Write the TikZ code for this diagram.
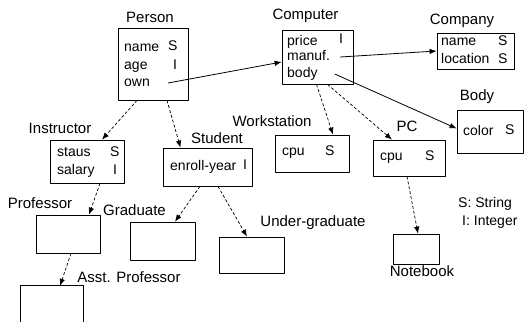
\documentclass[tikz,border=0pt]{standalone}
\usepackage{fontspec}
\setmainfont{Liberation Sans}
\usetikzlibrary{arrows.meta}

\begin{document}
\begin{tikzpicture}[x=1pt, y=-1pt, line join=round, >={Latex[length=7pt,width=5.5pt]},
	box/.style={draw, line width=0.8pt, inner sep=0pt},
	lbl/.style={inner sep=0pt, font=\fontsize{15}{17}\selectfont},
	field/.style={anchor=west, inner sep=0pt, text height=10pt, text depth=3pt, font=\fontsize{14}{16}\selectfont},
	isa/.style={->, line width=0.7pt, dash pattern=on 3pt off 2pt},
	ref/.style={->, line width=0.8pt}]
	\useasboundingbox (0,0) rectangle (526,322);
	% boxes
	\node[box, minimum width=70, minimum height=72] (person) at (153,64) {};
	\node[box, minimum width=71, minimum height=54] (computer) at (317.5,57) {};
	\node[box, minimum width=77, minimum height=36] (company) at (475.5,51) {};
	\node[box, minimum width=66, minimum height=43] (body) at (490,131.5) {};
	\node[box, minimum width=74, minimum height=37] (workst) at (312,153.5) {};
	\node[box, minimum width=72, minimum height=36] (pc) at (409,158) {};
	\node[box, minimum width=46, minimum height=30] (notebook) at (416,249) {};
	\node[box, minimum width=74, minimum height=43] (instr) at (87,161.5) {};
	\node[box, minimum width=89, minimum height=38] (student) at (207.5,167) {};
	\node[box, minimum width=64, minimum height=38] (prof) at (68,234) {};
	\node[box, minimum width=65, minimum height=38] (grad) at (162.5,241) {};
	\node[box, minimum width=65, minimum height=36] (under) at (251.5,255) {};
	\node[inner sep=0pt, minimum width=62, minimum height=36] (asst) at (52,304) {};
	\draw[line width=0.8pt] (asst.south west) |- (asst.north east) -- (asst.south east);
	% class names
	\node[lbl] (personl) at (150,17) {Person};
	\node[lbl] (computerl) at (305.5,16) {Computer};
	\node[lbl] (companyl) at (462,21) {Company};
	\node[lbl] (bodyl) at (477,97) {Body};
	\node[lbl] (workstl) at (272,121) {Workstation};
	\node[lbl] (pcl) at (407,126) {PC};
	\node[lbl] (notebookl) at (422,271) {Notebook};
	\node[lbl] (instrl) at (60,128) {Instructor};
	\node[lbl] (studentl) at (217,138) {Student};
	\node[lbl] (profl) at (40,203) {Professor};
	\node[lbl] (gradl) at (134.5,210) {Graduate};
	\node[lbl] (underl) at (313,223) {Under-graduate};
	\node[lbl] (asstl) at (129,277) {Asst. Professor};
	% attributes
	\node[field] (pname) at (124,48) {name};
	\node[field] (pnamet) at (168,47) {S};
	\node[field] (page) at (124,66) {age};
	\node[field] (paget) at (173,66) {I};
	\node[field] (pown) at (124,83) {own};
	\node[field] (cprice) at (287,42) {price};
	\node[field] (cpricet) at (339,40) {I};
	\node[field] (cmanuf) at (287,57) {manuf.};
	\node[field] (cbody) at (287,74) {body};
	\node[field] (oname) at (441,42) {name};
	\node[field] (onamet) at (498,42) {S};
	\node[field] (oloc) at (441,60) {location};
	\node[field] (oloct) at (498,60) {S};
	\node[field] (bcolor) at (463,132) {color};
	\node[field] (bcolort) at (505,131) {S};
	\node[field] (wcpu) at (282,152) {cpu};
	\node[field] (wcput) at (325,152) {S};
	\node[field] (pccpu) at (380,157) {cpu};
	\node[field] (pccput) at (425,157) {S};
	\node[field] (istaus) at (57,153) {staus};
	\node[field] (istaust) at (110,153) {S};
	\node[field] (isal) at (57,171) {salary};
	\node[field] (isalt) at (113,171) {I};
	\node[field] (senroll) at (170,167) {enroll-year};
	\node[field] (senrollt) at (243,166) {I};
	% legend
	\node[field] (legs) at (458,204) {S: String};
	\node[field] (legi) at (462,222) {I: Integer};
	% references
	\draw[ref] ([xshift=18pt]pown.east) -- ([yshift=-5pt]computer.west);
	\draw[ref] ([xshift=10pt]cmanuf.east) -- (company.west);
	\draw[ref] ([xshift=17pt]cbody.east) -- ([yshift=3pt]body.west);
	% is-a links
	\draw[isa] ([xshift=-1pt]computer.south) -- ([xshift=21pt]workst.north);
	\draw[isa] ([xshift=10pt]computer.south) -- ([xshift=-17pt]pc.north);
	\draw[isa] ([xshift=-16pt]person.south) -- ([xshift=15pt]instr.north);
	\draw[isa] ([xshift=14pt]person.south) -- ([xshift=-27pt]student.north);
	\draw[isa] ([xshift=13pt]instr.south) -- ([xshift=21pt]prof.north);
	\draw[isa] ([xshift=-7.5pt]student.south) -- ([xshift=12.5pt]grad.north);
	\draw[isa] ([xshift=10.5pt]student.south) -- ([xshift=-4.5pt]under.north);
	\draw[isa] ([xshift=3pt]prof.south) -- ([xshift=8pt]asst.north);
	\draw[isa] ([xshift=-2pt]pc.south) -- ([xshift=2pt]notebook.north);
\end{tikzpicture}
\end{document}
